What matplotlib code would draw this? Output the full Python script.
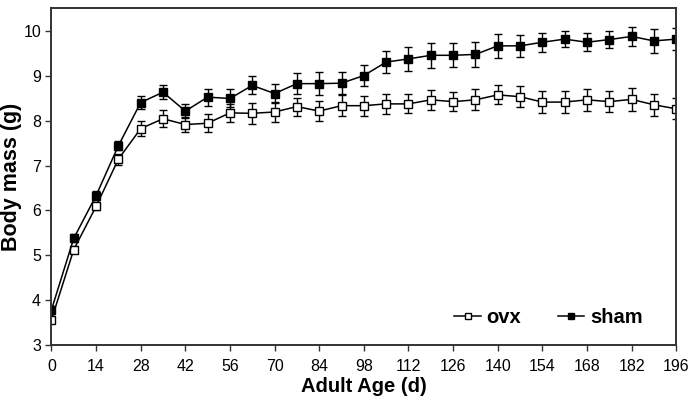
import numpy as np
import matplotlib.pyplot as plt
from matplotlib.ticker import FixedLocator

plt.rcParams['font.family'] = ['Liberation Sans', 'DejaVu Sans']

# ------------------------------------------------------------------------------ #

days = np.arange(0, 197, 7)

ovx_mean = [3.57, 5.13, 6.09, 7.14, 7.82, 8.04, 7.91, 7.94, 8.17, 8.16,
            8.19, 8.31, 8.21, 8.33, 8.33, 8.37, 8.37, 8.46, 8.42, 8.46,
            8.57, 8.53, 8.41, 8.41, 8.46, 8.42, 8.47, 8.35, 8.26]
ovx_err = [0.08, 0.08, 0.09, 0.12, 0.17, 0.19, 0.17, 0.20, 0.20, 0.24,
           0.23, 0.20, 0.22, 0.23, 0.22, 0.22, 0.21, 0.22, 0.21, 0.23,
           0.21, 0.24, 0.24, 0.24, 0.24, 0.23, 0.25, 0.25, 0.23]

sham_mean = [3.79, 5.38, 6.33, 7.44, 8.40, 8.63, 8.21, 8.52, 8.49, 8.78,
             8.60, 8.82, 8.82, 8.83, 9.00, 9.30, 9.37, 9.45, 9.45, 9.47,
             9.66, 9.66, 9.74, 9.81, 9.74, 9.80, 9.87, 9.77, 9.81]
sham_err = [0.08, 0.09, 0.10, 0.10, 0.15, 0.15, 0.16, 0.19, 0.20, 0.20,
            0.22, 0.23, 0.25, 0.24, 0.24, 0.25, 0.26, 0.28, 0.27, 0.27,
            0.26, 0.25, 0.21, 0.17, 0.20, 0.18, 0.21, 0.26, 0.25]

x_ticks = np.arange(0, 197, 14)
y_ticks = np.arange(3, 11, 1)

# ------------------------------------------------------------------------------ #

fig = plt.figure(figsize=(6.95, 4.04), dpi=100)
ax = fig.add_axes([0.074, 0.145, 0.899, 0.835])

for mean, err, face, name in [(ovx_mean, ovx_err, 'white', 'ovx'),
                              (sham_mean, sham_err, 'black', 'sham')]:
    ax.errorbar(days, mean, yerr=err, fmt='none', ecolor='black',
                elinewidth=1.0, capsize=3, capthick=1.0)
    ax.plot(days, mean, '-s', color='black', linewidth=1.1, markersize=5.5,
            markerfacecolor=face, markeredgecolor='black', markeredgewidth=1.0, label=name)

ax.set_xlim(0, 196)
ax.set_ylim(3, 10.5)
ax.xaxis.set_major_locator(FixedLocator(x_ticks))
ax.yaxis.set_major_locator(FixedLocator(y_ticks))
ax.tick_params(direction='out', length=4, width=1, labelsize=11.5, color='#333333')
ax.tick_params(axis='x', pad=6)
for sp in ax.spines.values():
    sp.set_linewidth(1.4)
    sp.set_color('#333333')

ax.set_xlabel('Adult Age (d)', fontsize=14.5, fontweight='bold', labelpad=2)
ax.set_ylabel('Body mass (g)', fontsize=15.5, fontweight='bold')
ax.yaxis.set_label_coords(-0.047, 0.5)

legend = ax.legend(loc='lower right', bbox_to_anchor=(0.975, 0.0), ncol=2, frameon=False,
                   prop={'size': 14.5, 'weight': 'bold'}, markerscale=0.75,
                   handlelength=1.3, handletextpad=0.3, columnspacing=1.8)

plt.savefig('out.png', dpi=100)
